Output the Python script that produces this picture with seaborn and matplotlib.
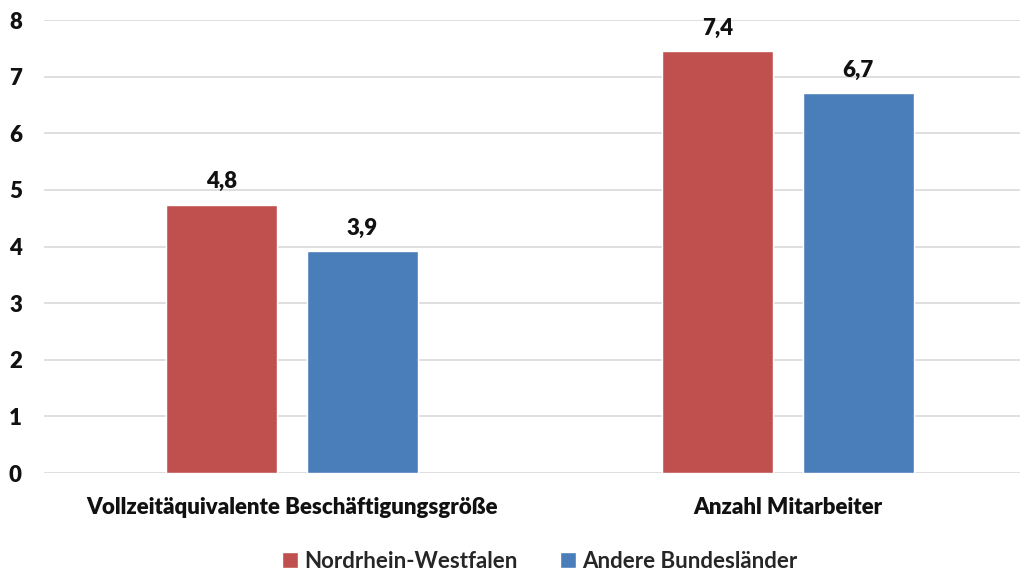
import pandas as pd
import seaborn as sns
import matplotlib.pyplot as plt

# Werte
kategorien = ['Vollzeitäquivalente Beschäftigungsgröße', 'Anzahl Mitarbeiter']
regionen = ['Nordrhein-Westfalen', 'Andere Bundesländer']
nrw_werte = [4.74, 7.45]
andere_werte = [3.92, 6.71]
nrw_labels = ['4,8', '7,4']
andere_labels = ['3,9', '6,7']
farben = ['#C0504D', '#4A7EBB']

df = pd.DataFrame({
    'Kategorie': kategorien * 2,
    'Region': [regionen[0]] * 2 + [regionen[1]] * 2,
    'Wert': nrw_werte + andere_werte,
})

sns.set_style('white')
plt.rcParams['font.family'] = ['Lato', 'DejaVu Sans']

fig = plt.figure(figsize=(10.26, 5.72), dpi=100)
ax = fig.add_axes([0.043, 0.173, 0.951, 0.792])

sns.barplot(data=df, x='Kategorie', y='Wert', hue='Region', palette=farben,
            width=0.568, gap=0.211, ax=ax, saturation=1, legend=True)

# Datenbeschriftungen
for container, labels in zip(ax.containers, [nrw_labels, andere_labels]):
    ax.bar_label(container, labels=labels, padding=9, fontsize=16,
                 fontweight='heavy', color='#111111')

ax.set_ylim(0, 8)
ax.set_xlim(-0.5, 1.468)
ax.set_yticks(range(0, 9))
ax.yaxis.grid(True, color='#D9D9D9', linewidth=1.2)
ax.set_axisbelow(True)
for s in ax.spines.values():
    s.set_visible(False)
ax.tick_params(axis='both', length=0)
ax.tick_params(axis='y', labelsize=16, pad=16)
ax.tick_params(axis='x', labelsize=16, pad=17)
for t in ax.get_xticklabels() + ax.get_yticklabels():
    t.set_fontweight('heavy')
    t.set_color('#111111')
ax.set_xlabel('')
ax.set_ylabel('')

ax.legend(loc='lower center', bbox_to_anchor=(0.508, -0.262), ncol=2, frameon=False,
          prop={'size': 16, 'weight': 'bold'}, handlelength=0.7, handleheight=0.7,
          handletextpad=0.3, columnspacing=1.9)

plt.savefig('out.png')
plt.close()
